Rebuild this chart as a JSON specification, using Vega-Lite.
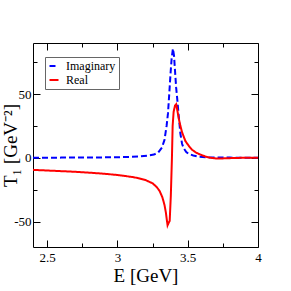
{
  "$schema": "https://vega.github.io/schema/vega-lite/v6.json",
  "width": 225,
  "height": 204,
  "autosize": {"type": "none"},
  "padding": {"left": 33, "top": 43, "right": 33, "bottom": 44},
  "background": "white",
  "config": {
    "view": {"stroke": null},
    "font": "Liberation Serif",
    "axis": {"labelFont": "Liberation Serif", "titleFont": "Liberation Serif", "labelColor": "black", "titleColor": "black", "domainColor": "black", "tickColor": "black", "grid": false, "titleFontWeight": "normal", "labelFontSize": 13, "titleFontSize": 19}
  },
  "datasets": {
    "curves": [
      {"E": 2.4, "T": 0, "part": "Imaginary"},
      {"E": 2.6, "T": 0.1, "part": "Imaginary"},
      {"E": 2.8, "T": 0.2, "part": "Imaginary"},
      {"E": 3.0, "T": 0.4, "part": "Imaginary"},
      {"E": 3.1, "T": 0.7, "part": "Imaginary"},
      {"E": 3.16, "T": 1.0, "part": "Imaginary"},
      {"E": 3.22, "T": 1.7, "part": "Imaginary"},
      {"E": 3.26, "T": 2.5, "part": "Imaginary"},
      {"E": 3.29, "T": 4, "part": "Imaginary"},
      {"E": 3.317, "T": 8, "part": "Imaginary"},
      {"E": 3.335, "T": 14, "part": "Imaginary"},
      {"E": 3.35, "T": 25, "part": "Imaginary"},
      {"E": 3.36, "T": 35, "part": "Imaginary"},
      {"E": 3.37, "T": 52, "part": "Imaginary"},
      {"E": 3.378, "T": 66, "part": "Imaginary"},
      {"E": 3.386, "T": 78, "part": "Imaginary"},
      {"E": 3.395, "T": 85.5, "part": "Imaginary"},
      {"E": 3.403, "T": 80, "part": "Imaginary"},
      {"E": 3.41, "T": 68, "part": "Imaginary"},
      {"E": 3.418, "T": 55, "part": "Imaginary"},
      {"E": 3.425, "T": 47, "part": "Imaginary"},
      {"E": 3.436, "T": 33, "part": "Imaginary"},
      {"E": 3.448, "T": 19, "part": "Imaginary"},
      {"E": 3.46, "T": 11, "part": "Imaginary"},
      {"E": 3.471, "T": 7.5, "part": "Imaginary"},
      {"E": 3.49, "T": 4.5, "part": "Imaginary"},
      {"E": 3.507, "T": 3, "part": "Imaginary"},
      {"E": 3.54, "T": 1.8, "part": "Imaginary"},
      {"E": 3.58, "T": 0.8, "part": "Imaginary"},
      {"E": 3.65, "T": 0.3, "part": "Imaginary"},
      {"E": 3.8, "T": 0.1, "part": "Imaginary"},
      {"E": 4.0, "T": 0, "part": "Imaginary"},
      {"E": 2.4, "T": -9.5, "part": "Real"},
      {"E": 2.5, "T": -10, "part": "Real"},
      {"E": 2.6, "T": -10.5, "part": "Real"},
      {"E": 2.7, "T": -11, "part": "Real"},
      {"E": 2.8, "T": -11.7, "part": "Real"},
      {"E": 2.9, "T": -12.5, "part": "Real"},
      {"E": 3.0, "T": -13.5, "part": "Real"},
      {"E": 3.1, "T": -15, "part": "Real"},
      {"E": 3.15, "T": -16, "part": "Real"},
      {"E": 3.2, "T": -17.5, "part": "Real"},
      {"E": 3.25, "T": -20, "part": "Real"},
      {"E": 3.28, "T": -23, "part": "Real"},
      {"E": 3.3, "T": -26, "part": "Real"},
      {"E": 3.32, "T": -31, "part": "Real"},
      {"E": 3.335, "T": -37, "part": "Real"},
      {"E": 3.345, "T": -43, "part": "Real"},
      {"E": 3.352, "T": -49, "part": "Real"},
      {"E": 3.357, "T": -53, "part": "Real"},
      {"E": 3.365, "T": -51, "part": "Real"},
      {"E": 3.372, "T": -49.5, "part": "Real"},
      {"E": 3.38, "T": -30, "part": "Real"},
      {"E": 3.388, "T": 0, "part": "Real"},
      {"E": 3.393, "T": 25, "part": "Real"},
      {"E": 3.4, "T": 36, "part": "Real"},
      {"E": 3.41, "T": 41, "part": "Real"},
      {"E": 3.418, "T": 42, "part": "Real"},
      {"E": 3.425, "T": 38, "part": "Real"},
      {"E": 3.436, "T": 31, "part": "Real"},
      {"E": 3.448, "T": 25, "part": "Real"},
      {"E": 3.46, "T": 20, "part": "Real"},
      {"E": 3.484, "T": 13, "part": "Real"},
      {"E": 3.51, "T": 9, "part": "Real"},
      {"E": 3.531, "T": 6.3, "part": "Real"},
      {"E": 3.56, "T": 4, "part": "Real"},
      {"E": 3.58, "T": 2.9, "part": "Real"},
      {"E": 3.626, "T": 1, "part": "Real"},
      {"E": 3.66, "T": 0, "part": "Real"},
      {"E": 3.7, "T": -0.5, "part": "Real"},
      {"E": 3.75, "T": -0.5, "part": "Real"},
      {"E": 3.8, "T": -0.3, "part": "Real"},
      {"E": 3.9, "T": 0, "part": "Real"},
      {"E": 4.0, "T": 0, "part": "Real"}
    ]
  },
  "data": {"name": "curves"},
  "resolve": {"axis": {"x": "independent", "y": "independent"}},
  "layer": [
    {
      "transform": [{"filter": "datum.part === 'Imaginary'"}],
      "mark": {"type": "line", "strokeWidth": 2, "clip": true},
      "encoding": {
        "x": {"field": "E", "type": "quantitative", "scale": {"domain": [2.4, 4], "nice": false, "zero": false},
          "axis": {"orient": "bottom", "title": "E [GeV]", "values": [2.5, 2.75, 3, 3.25, 3.5, 3.75, 4], "labelExpr": "(datum.value * 2) % 1 === 0 ? '' + datum.value : ''", "tickSize": {"condition": {"test": "(datum.value * 2) % 1 === 0", "value": -7}, "value": -4}, "labelPadding": 11, "labelFlush": false, "titlePadding": 2}},
        "y": {"field": "T", "type": "quantitative", "scale": {"domain": [-70, 90], "nice": false, "zero": false},
          "axis": {"orient": "left", "title": "T₁ [GeV⁻²]", "values": [-50, -25, 0, 25, 50, 75], "labelExpr": "datum.value % 50 === 0 ? '' + datum.value : ''", "tickSize": {"condition": {"test": "datum.value % 50 === 0", "value": -7}, "value": -4}, "labelPadding": 9, "labelFlush": false, "titlePadding": -7}},
        "order": {"field": "E", "type": "quantitative"},
        "color": {"field": "part", "type": "nominal", "scale": {"domain": ["Imaginary", "Real"], "range": ["#0000ff", "#ff0000"]},
          "legend": {"title": null, "orient": "none", "legendX": 12, "legendY": 14, "labelFont": "Liberation Serif", "labelFontSize": 12, "labelColor": "black", "symbolType": "stroke", "symbolSize": 81, "symbolStrokeWidth": 2, "strokeColor": "#666666", "padding": 3, "labelOffset": 6, "rowPadding": 2, "fillColor": "white"}},
        "strokeDash": {"field": "part", "type": "nominal", "scale": {"domain": ["Imaginary", "Real"], "range": [[6, 3], [1, 0]]}, "legend": null}
      }
    },
    {
      "transform": [{"filter": "datum.part === 'Real'"}],
      "mark": {"type": "line", "strokeWidth": 2, "clip": true},
      "encoding": {
        "x": {"field": "E", "type": "quantitative",
          "axis": {"orient": "top", "title": null, "labels": false, "values": [2.5, 2.75, 3, 3.25, 3.5, 3.75, 4], "tickSize": {"condition": {"test": "(datum.value * 2) % 1 === 0", "value": -7}, "value": -4}}},
        "y": {"field": "T", "type": "quantitative",
          "axis": {"orient": "right", "title": null, "labels": false, "values": [-50, -25, 0, 25, 50, 75], "tickSize": {"condition": {"test": "datum.value % 50 === 0", "value": -7}, "value": -4}}},
        "order": {"field": "E", "type": "quantitative"},
        "color": {"field": "part", "type": "nominal"},
        "strokeDash": {"field": "part", "type": "nominal"}
      }
    }
  ]
}
